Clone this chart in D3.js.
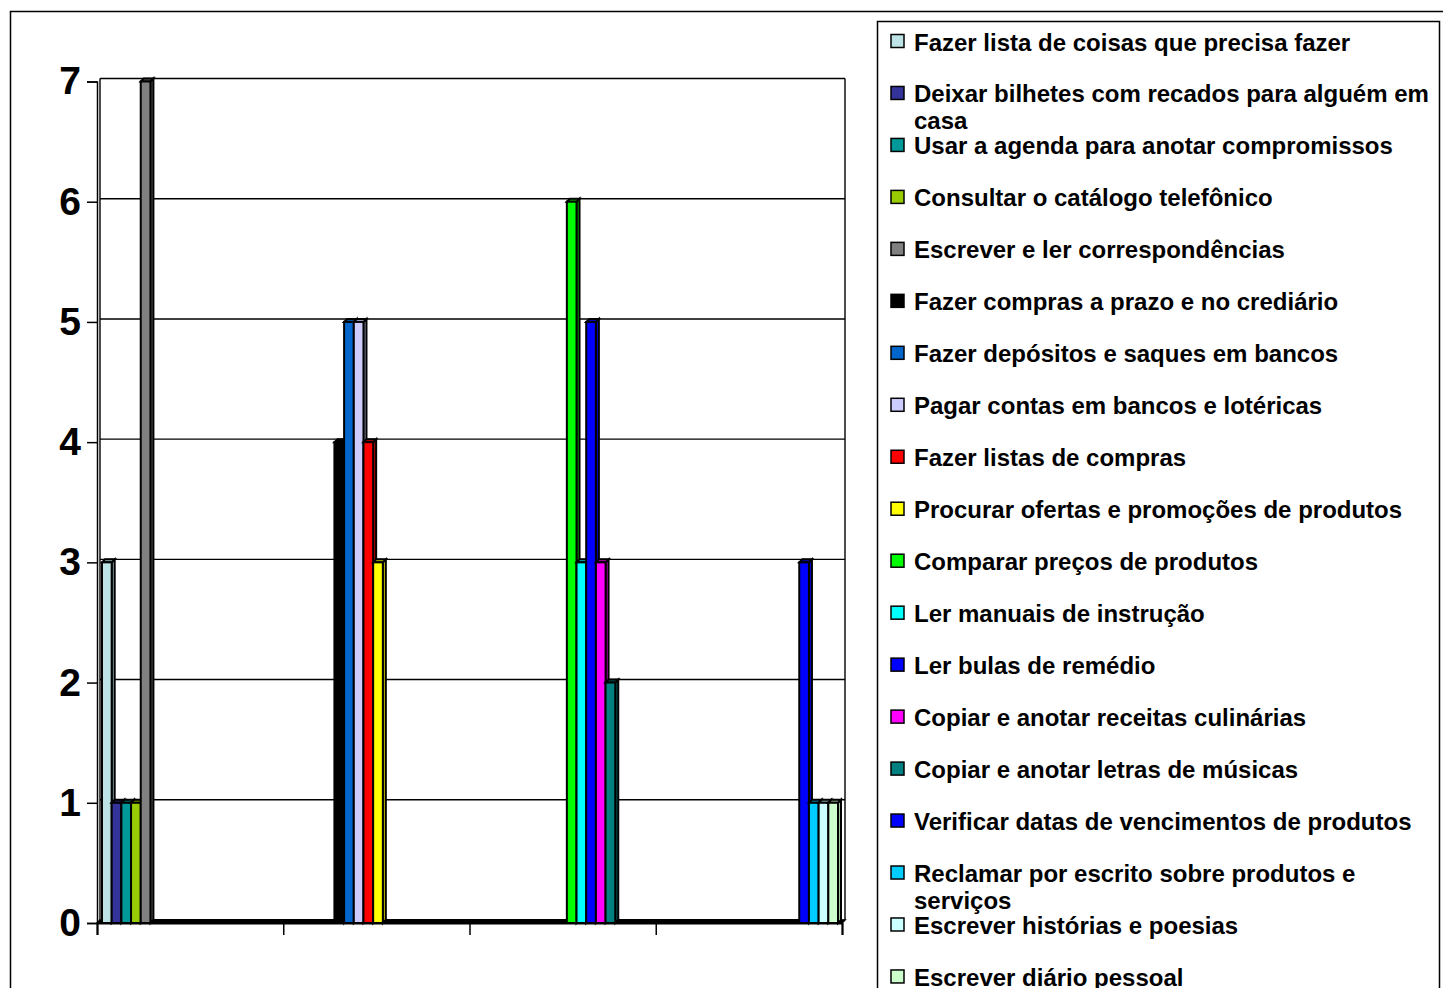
<!DOCTYPE html>
<html>
<head>
<meta charset="utf-8">
<script src="https://cdn.jsdelivr.net/npm/d3@7"></script>
<style>
  html, body { margin: 0; padding: 0; background: #fff; }
  svg { display: block; font-family: "Liberation Sans", Arial, sans-serif; }
</style>
</head>
<body>
<svg id="chart" width="1443" height="988"></svg>
<script>
// Four activity groups (unlabelled on the axis)
const categories = [1, 2, 3, 4];

const seriesNames = [
  "Fazer lista de coisas que precisa fazer",
  "Deixar bilhetes com recados para alguém em casa",
  "Usar a agenda para anotar compromissos",
  "Consultar o catálogo telefônico",
  "Escrever e ler correspondências",
  "Fazer compras a prazo e no crediário",
  "Fazer depósitos e saques em bancos",
  "Pagar contas em bancos e lotéricas",
  "Fazer listas de compras",
  "Procurar ofertas e promoções de produtos",
  "Comparar preços de produtos",
  "Ler manuais de instrução",
  "Ler bulas de remédio",
  "Copiar e anotar receitas culinárias",
  "Copiar e anotar letras de músicas",
  "Verificar datas de vencimentos de produtos",
  "Reclamar por escrito sobre produtos e serviços",
  "Escrever histórias e poesias",
  "Escrever diário pessoal"
];

const seriesColors = [
  "#BEE3E6", "#333399", "#009999", "#99CC00", "#808080",
  "#000000", "#0066CC", "#CCCCFF", "#FF0000", "#FFFF00",
  "#00FF00", "#00FFFF", "#0000FF", "#FF00FF", "#008080",
  "#0000FF", "#00CCFF", "#CCFFFF", "#CCFFCC"
];

// One row per series, one value per category
const seriesValues = [
  [3, 0, 0, 0],
  [1, 0, 0, 0],
  [1, 0, 0, 0],
  [1, 0, 0, 0],
  [7, 0, 0, 0],
  [0, 4, 0, 0],
  [0, 5, 0, 0],
  [0, 5, 0, 0],
  [0, 4, 0, 0],
  [0, 3, 0, 0],
  [0, 0, 6, 0],
  [0, 0, 3, 0],
  [0, 0, 5, 0],
  [0, 0, 3, 0],
  [0, 0, 2, 0],
  [0, 0, 0, 3],
  [0, 0, 0, 1],
  [0, 0, 0, 1],
  [0, 0, 0, 1]
];

const yTicks = [0, 1, 2, 3, 4, 5, 6, 7];

const svg = d3.select("#chart");
const FONT = "'Liberation Sans', Arial, sans-serif";

// depth of the pseudo-3D columns and back wall
const DX = 3, DY = 3;

const plotLeft = 97, plotRight = 842, plotTop = 81.5, plotBottom = 923;

// columns sit slightly inside the category axis
const x = d3.scaleBand().domain(categories).range([102, 838]).padding(0);
const xs = d3.scaleBand().domain(d3.range(seriesNames.length)).range([0, x.bandwidth()]).padding(0);
const y = d3.scaleLinear().domain([0, 7]).range([plotBottom, plotTop]);

// outer chart frame
svg.append("rect")
  .attr("x", 10.5).attr("y", 11.5).attr("width", 1500).attr("height", 1000)
  .attr("fill", "none").attr("stroke", "#000").attr("stroke-width", 1.5);

// back wall with gridlines
const wall = svg.append("g");
wall.selectAll("line.grid")
  .data(yTicks)
  .join("line")
  .attr("class", "grid")
  .attr("x1", plotLeft + DX).attr("x2", plotRight + DX)
  .attr("y1", d => y(d) - DY).attr("y2", d => y(d) - DY)
  .attr("stroke", d => d === 0 ? "#888" : "#000").attr("stroke-width", 1.4);
wall.selectAll("line.edge")
  .data([plotLeft + DX, plotRight + DX])
  .join("line")
  .attr("class", "edge")
  .attr("x1", d => d).attr("x2", d => d)
  .attr("y1", y(7) - DY).attr("y2", y(0) - DY)
  .attr("stroke", "#000").attr("stroke-width", 1.4);
// floor band along the front edge
wall.append("path")
  .attr("d", `M${plotLeft},${y(0)}L${plotLeft + DX},${y(0) - DY}L${plotRight + DX},${y(0) - DY}L${plotRight},${y(0)}Z`)
  .attr("fill", "#000").attr("stroke", "#000").attr("stroke-width", 1.5);

// columns
const bars = svg.append("g");
categories.forEach((cat, ci) => {
  seriesValues.forEach((vals, si) => {
    const v = vals[ci];
    const col = seriesColors[si];
    const dark = v === 0 ? "#000" : d3.color(col).darker(0.7).formatHex();
    const x0 = x(cat) + xs(si);
    const x1 = x0 + xs.bandwidth();
    const yt = y(v), yb = y(0);
    const g = bars.append("g")
      .attr("stroke", "#000").attr("stroke-width", 2).attr("stroke-linejoin", "miter");
    // right side face
    g.append("path")
      .attr("d", `M${x1},${yt}L${x1 + DX},${yt - DY}L${x1 + DX},${yb - DY}L${x1},${yb}Z`)
      .attr("fill", dark);
    // top face
    g.append("path")
      .attr("d", `M${x0},${yt}L${x0 + DX},${yt - DY}L${x1 + DX},${yt - DY}L${x1},${yt}Z`)
      .attr("fill", dark);
    // front face
    g.append("rect")
      .attr("x", x0).attr("y", yt)
      .attr("width", x1 - x0).attr("height", yb - yt)
      .attr("fill", col);
  });
});

// value axis
const yAxis = svg.append("g")
  .attr("transform", `translate(${plotLeft},0)`)
  .call(d3.axisLeft(y).tickValues(yTicks).tickSize(10).tickPadding(6).tickFormat(d3.format("d")));
yAxis.select(".domain").attr("stroke", "#000").attr("stroke-width", 1.5);
yAxis.selectAll(".tick line").attr("stroke", "#000").attr("stroke-width", 1.5);
yAxis.selectAll(".tick text")
  .attr("fill", "#000")
  .style("font-family", FONT).style("font-weight", "bold").style("font-size", "39px");

// category axis: ticks at group boundaries, no labels
const xb = d3.scaleLinear().domain([0, categories.length]).range([plotLeft, plotRight]);
const xAxis = svg.append("g")
  .attr("transform", `translate(0,${plotBottom})`)
  .call(d3.axisBottom(xb).ticks(categories.length).tickSize(12).tickFormat(() => ""));
xAxis.select(".domain").attr("stroke", "#000").attr("stroke-width", 2);
xAxis.selectAll(".tick line").attr("stroke", "#000").attr("stroke-width", 1.5);

// legend
const legend = svg.append("g");
legend.append("rect")
  .attr("x", 877.5).attr("y", 21.5).attr("width", 562).attr("height", 1000)
  .attr("fill", "#fff").attr("stroke", "#000").attr("stroke-width", 1.5);

const rowStep = 51.97, firstBaseline = 50.5, textX = 914, wrapWidth = 524, lineH = 27;
const items = legend.selectAll("g.item")
  .data(seriesNames)
  .join("g")
  .attr("class", "item")
  .attr("transform", (d, i) => `translate(0,${firstBaseline + i * rowStep})`);
items.append("rect")
  .attr("x", 891).attr("y", -16).attr("width", 13).attr("height", 13)
  .attr("fill", (d, i) => seriesColors[i])
  .attr("stroke", "#000").attr("stroke-width", 1.5);
items.append("text")
  .attr("x", textX).attr("y", 0)
  .attr("fill", "#000")
  .style("font-family", FONT).style("font-weight", "bold").style("font-size", "24px")
  .each(function (d) {
    const t = d3.select(this);
    const words = d.split(" ");
    let line = [];
    let ts = t.append("tspan").attr("x", textX).attr("dy", 0);
    words.forEach(w => {
      line.push(w);
      ts.text(line.join(" "));
      if (ts.node().getComputedTextLength() > wrapWidth && line.length > 1) {
        line.pop();
        ts.text(line.join(" "));
        line = [w];
        ts = t.append("tspan").attr("x", textX).attr("dy", lineH).text(w);
      }
    });
  });
</script>
</body>
</html>
